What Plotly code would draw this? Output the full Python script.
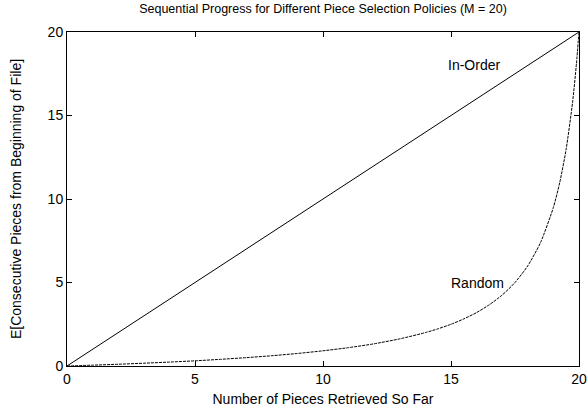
import plotly.graph_objects as go

# Data
inorder_x = [0, 20]
inorder_y = [0, 20]

random_x = [0, 1, 2, 3, 4, 5, 6, 7, 8, 9, 10, 11, 12, 13, 14, 14.5, 15, 15.5, 16, 16.5, 17, 17.5, 18,
            18.5, 19, 19.25, 19.5, 19.75, 19.9, 20]
random_y = [0, 0.05, 0.105, 0.167, 0.235, 0.31, 0.4, 0.5, 0.615, 0.75, 0.91, 1.1, 1.33, 1.625, 2.0,
            2.23, 2.5, 2.82, 3.2, 3.67, 4.25, 5.0, 6.0, 7.4, 9.5, 11.0, 13.0, 15.8, 18.1, 20]

x_ticks = [0, 5, 10, 15, 20]
y_ticks = [0, 5, 10, 15, 20]

FONT = "Liberation Sans, Arial, Helvetica, sans-serif"

fig = go.Figure()
fig.add_trace(go.Scatter(x=inorder_x, y=inorder_y, mode="lines",
                         line=dict(color="black", width=1), showlegend=False))
fig.add_trace(go.Scatter(x=random_x, y=random_y, mode="lines",
                         line=dict(color="black", width=1, dash="3px,1px", shape="spline", smoothing=0.6),
                         showlegend=False))

fig.add_annotation(x=15.9, y=18.0, text="In-Order", showarrow=False,
                   font=dict(family=FONT, size=14, color="black"))
fig.add_annotation(x=16.05, y=4.97, text="Random", showarrow=False,
                   font=dict(family=FONT, size=14, color="black"))

axis_common = dict(showgrid=False, zeroline=False, showline=True, linecolor="black", linewidth=1,
                   mirror="ticks", ticks="inside", ticklen=5, tickcolor="black", automargin=False,
                   tickfont=dict(family=FONT, size=14, color="black"))

fig.update_layout(
    width=587, height=416,
    margin=dict(l=67, r=8, t=32, b=50),
    paper_bgcolor="white", plot_bgcolor="white",
    title=dict(text="Sequential Progress for Different Piece Selection Policies (M = 20)",
               x=0.5, xref="paper", y=0.99, yanchor="top", automargin=False,
               font=dict(family=FONT, size=12.5, color="black")),
    xaxis=dict(range=[0, 20], tickvals=x_ticks,
               title=dict(text="Number of Pieces Retrieved So Far", standoff=8,
                          font=dict(family=FONT, size=14, color="black")),
               **axis_common),
    yaxis=dict(range=[0, 20], tickvals=y_ticks,
               title=dict(text="E[Consecutive Pieces from Beginning of File]", standoff=22,
                          font=dict(family=FONT, size=14, color="black")),
               **axis_common),
)

fig.write_html("out.html", config={"displayModeBar": False},
               post_script="document.body.style.margin='0';document.body.style.overflow='hidden';")
